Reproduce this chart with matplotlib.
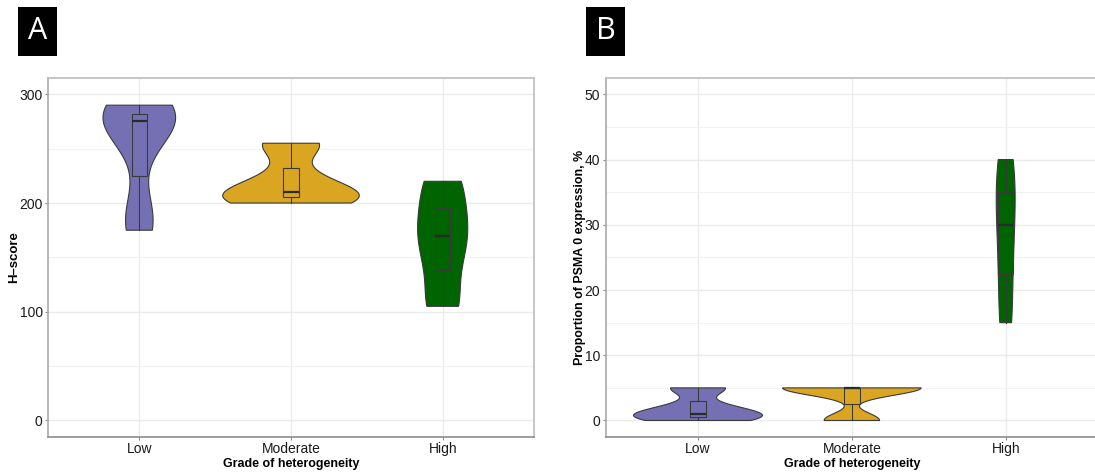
import numpy as np
import matplotlib
matplotlib.use("Agg")
import matplotlib.pyplot as plt
from matplotlib.patches import Rectangle

plt.rcParams['font.family'] = ['Liberation Sans', 'DejaVu Sans']

categories = ["Low", "Moderate", "High"]
colors = ["#7570B3", "#DAA520", "#006400"]

# Panel A: H-score samples per grade
hscore_low = [175, 178, 200, 250, 268, 275, 280, 282, 282, 288, 290]
hscore_moderate = [200, 200, 207, 208, 212, 225, 253, 255]
hscore_high = [105, 105, 105, 138, 150, 160, 170, 178, 185, 195, 220, 220, 220]

# Panel B: proportion of PSMA 0 expression (%)
psma0_low = [0, 0, 0.5, 0.5, 1, 1, 1, 2, 2.33, 5, 5, 5]
psma0_moderate = [0, 0, 5, 5, 5, 5, 5]
psma0_high = [15, 15, 22.5, 25, 30, 33, 35, 40, 40]

yticks_a = [0, 100, 200, 300]
yticks_b = [0, 10, 20, 30, 40, 50]

W, H = 1095, 472


def bw_nrd0(x):
    x = np.asarray(x, float)
    sd = x.std(ddof=1)
    iqr = np.subtract(*np.percentile(x, [75, 25]))
    lo = min(sd, iqr / 1.34) if iqr > 0 else sd
    if lo == 0:
        lo = sd or abs(x[0]) or 1
    return 0.9 * lo * len(x) ** (-0.2)


def kde(x, grid):
    x = np.asarray(x, float)
    bw = bw_nrd0(x)
    z = (grid[:, None] - x[None, :]) / bw
    return np.exp(-0.5 * z ** 2).sum(axis=1) / (len(x) * bw * np.sqrt(2 * np.pi))


def violin_panel(ax, groups):
    dens = []
    for g in groups:
        grid = np.linspace(min(g), max(g), 512)
        dens.append((grid, kde(g, grid)))
    dmax = max(d.max() for _, d in dens)
    for i, ((grid, d), g, c) in enumerate(zip(dens, groups, colors)):
        x0 = i + 1
        w = d / dmax * 0.45
        xs = np.concatenate([x0 - w, (x0 + w)[::-1]])
        ys = np.concatenate([grid, grid[::-1]])
        ax.fill(xs, ys, facecolor=c, edgecolor="#3a3a3a", lw=0.8, zorder=3)
        q1, med, q3 = np.percentile(g, [25, 50, 75])
        iqr = q3 - q1
        arr = np.asarray(g, float)
        lo = arr[arr >= q1 - 1.5 * iqr].min()
        hi = arr[arr <= q3 + 1.5 * iqr].max()
        ax.plot([x0, x0], [lo, q1], color="#3a3a3a", lw=0.8, zorder=4)
        ax.plot([x0, x0], [q3, hi], color="#3a3a3a", lw=0.8, zorder=4)
        ax.add_patch(Rectangle((x0 - 0.05, q1), 0.1, q3 - q1, facecolor=c,
                               edgecolor="#3a3a3a", lw=0.8, zorder=4))
        ax.plot([x0 - 0.05, x0 + 0.05], [med, med], color="#2a2a2a", lw=1.6,
                zorder=5, solid_capstyle="butt")


def style(ax, ymax, yticks, ylabel, ylabsize, labx):
    ax.set_xlim(0.4, 3.6)
    ax.set_ylim(-0.05 * ymax, 1.05 * ymax)
    ax.set_xticks([1, 2, 3])
    ax.set_xticklabels(categories)
    ax.set_yticks(yticks)
    step = yticks[1] - yticks[0]
    ax.set_yticks([t + step / 2 for t in yticks[:-1]], minor=True)
    ax.grid(True, which="major", color="#EBEBEB", lw=1.0, zorder=0)
    ax.grid(True, which="minor", axis="y", color="#F2F2F2", lw=0.8, zorder=0)
    ax.set_axisbelow(True)
    for s in ax.spines.values():
        s.set_color("#BDBDBD")
        s.set_linewidth(1.2)
    ax.spines["bottom"].set_color("#8C8C8C")
    ax.spines["left"].set_color("#AAAAAA")
    ax.tick_params(which="major", length=2.5, width=0.8, color="#8C8C8C",
                   labelsize=10, labelcolor="#1a1a1a", pad=1.5)
    ax.tick_params(which="minor", length=0)
    ax.set_xlabel("Grade of heterogeneity", fontweight="bold", fontsize=9, labelpad=1.5)
    ax.set_ylabel(ylabel, fontweight="bold", fontsize=ylabsize)
    ax.yaxis.label.set_verticalalignment("center")
    ax.yaxis.set_label_coords(labx, 0.5)


fig = plt.figure(figsize=(W / 100, H / 100), dpi=100)

def add_axes(l, r, t, b):
    return fig.add_axes([l / W, 1 - b / H, (r - l) / W, (b - t) / H])

axA = add_axes(48.3, 533.7, 78, 436.8)
axB = add_axes(605.7, 1098, 78, 436.8)

violin_panel(axA, [hscore_low, hscore_moderate, hscore_high])
style(axA, 300, yticks_a, "H\u2013score", 9.5, -0.0707)
violin_panel(axB, [psma0_low, psma0_moderate, psma0_high])
style(axB, 50, yticks_b, "Proportion of PSMA 0 expression, %", 8.9, -0.0532)

for x0, lab in [(18, "A"), (586, "B")]:
    fig.patches.append(Rectangle((x0 / W, 1 - 55.7 / H), 39 / W, 49 / H,
                                 transform=fig.transFigure, facecolor="black",
                                 edgecolor="none"))
    fig.text((x0 + 19.5) / W, 1 - 31 / H, lab, color="white", fontsize=22,
             ha="center", va="center", family=["Open Sans", "DejaVu Sans"])

fig.savefig("out.png", dpi=100)
